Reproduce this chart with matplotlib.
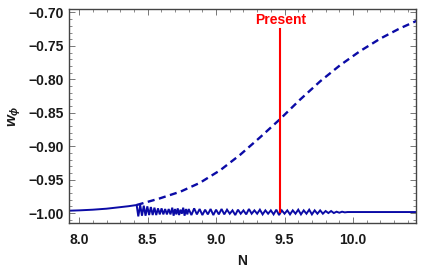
import matplotlib
matplotlib.use('Agg')
import matplotlib.pyplot as plt
from matplotlib.ticker import MultipleLocator, FuncFormatter

plt.rcParams['font.family'] = ['Liberation Sans', 'DejaVu Sans']
plt.rcParams['font.weight'] = 'bold'
plt.rcParams['mathtext.fontset'] = 'custom'
plt.rcParams['mathtext.it'] = 'Liberation Sans:italic:bold'
plt.rcParams['mathtext.rm'] = 'Liberation Sans:bold'

# --- data ---
# smooth part of the solid curve before the oscillations
smooth_N = [7.926, 8.0, 8.1, 8.2, 8.3, 8.36, 8.42]
smooth_w = [-0.9965, -0.9960, -0.9950, -0.9935, -0.9912, -0.9898, -0.9880]

# first strong oscillations
osc_N = [8.420, 8.432, 8.446, 8.459, 8.472, 8.485, 8.498, 8.511, 8.524, 8.537,
         8.550, 8.563, 8.576, 8.589, 8.602, 8.615, 8.628, 8.641, 8.654, 8.667]
osc_w = [-0.988, -1.005, -0.988, -1.004, -0.989, -1.004, -0.990, -1.003, -0.991, -1.003,
         -0.992, -1.003, -0.993, -1.002, -0.993, -1.002, -0.994, -1.002, -0.994, -1.002]

# noisy band afterwards
noise_N = [8.68, 8.69, 8.70, 8.71, 8.72, 8.73, 8.74, 8.75, 8.76, 8.77, 8.78, 8.79,
           8.80, 8.82, 8.84, 8.86,
           8.88, 8.90, 8.92, 8.94, 8.96, 8.98, 9.00, 9.02, 9.04, 9.06,
           9.08, 9.10, 9.12, 9.14, 9.16, 9.18, 9.20, 9.22, 9.24, 9.26,
           9.28, 9.30, 9.32, 9.34, 9.36, 9.38, 9.40, 9.42, 9.44, 9.46,
           9.48, 9.50, 9.52, 9.54, 9.56, 9.58, 9.60, 9.62, 9.64, 9.66,
           9.68, 9.70, 9.72, 9.74, 9.76, 9.78, 9.80, 9.82, 9.84, 9.86,
           9.88, 9.90, 9.92, 9.94, 9.96]
noise_w = [-0.992, -1.004, -0.994, -1.002, -0.993, -1.003, -0.995, -1.001, -0.992, -1.004,
           -0.994, -1.002,
           -0.994, -1.003, -0.993, -1.002,
           -0.994, -1.003, -0.995, -1.002, -0.994, -1.003, -0.995, -1.002, -0.994, -1.002,
           -0.995, -1.001, -0.996, -1.003, -0.995, -1.001, -0.996, -1.002, -0.994, -1.001,
           -0.996, -1.001, -0.995, -1.002, -0.996, -1.001, -0.996, -1.002, -0.995, -1.003,
           -0.996, -1.001, -0.996, -1.002, -0.996, -1.001, -0.995, -1.002, -0.996, -1.001,
           -0.995, -1.002, -0.996, -1.001, -0.996, -1.001, -0.997, -1.000, -0.997, -1.000,
           -0.998, -0.9995, -0.998, -0.999, -0.9985]

tail_N = [9.96, 10.2, 10.47]
tail_w = [-0.9985, -0.9985, -0.9985]

# dashed curve
dash_N = [8.42, 8.59, 8.74, 8.88, 9.03, 9.175, 9.32, 9.47, 9.61, 9.76,
          9.905, 10.05, 10.20, 10.34, 10.47]
dash_w = [-0.988, -0.978, -0.968, -0.955, -0.936, -0.913, -0.887, -0.859, -0.831, -0.803,
          -0.779, -0.758, -0.739, -0.724, -0.712]

present_N = 9.47
present_top = -0.724
present_bottom = -0.999

blue = '#0b0ba6'

fig = plt.figure(figsize=(4.21, 2.72), dpi=100)
ax = fig.add_axes([69/421, (272-223)/272, (416-69)/421, (223-9)/272])

ax.plot(smooth_N + osc_N + noise_N + tail_N,
        smooth_w + osc_w + noise_w + tail_w,
        color=blue, lw=1.4, solid_joinstyle='miter')
ax.plot(dash_N, dash_w, color=blue, lw=1.7, dashes=(3.0, 1.9))
ax.plot([present_N, present_N], [present_bottom, present_top], color='red', lw=1.5)
ax.text(present_N, present_top + 0.003, 'Present', color='red', fontsize=10,
        fontweight='bold', ha='center', va='bottom')

ax.set_xlim(7.926, 10.46)
ax.set_ylim(-1.0149, -0.6948)

ax.xaxis.set_major_locator(MultipleLocator(0.5))
ax.xaxis.set_minor_locator(MultipleLocator(0.1))
ax.yaxis.set_major_locator(MultipleLocator(0.05))
ax.yaxis.set_minor_locator(MultipleLocator(0.01))
ax.xaxis.set_major_formatter(FuncFormatter(lambda v, p: f'{v:.1f}'))
ax.yaxis.set_major_formatter(FuncFormatter(lambda v, p: f'{v:.2f}'.replace('-', '\u2212')))

for s in ax.spines.values():
    s.set_color('#444444')
    s.set_linewidth(1.0)
ax.tick_params(which='both', direction='in', top=True, right=True, color='#777777',
               labelsize=10, labelcolor='#1a1a1a')
ax.tick_params(which='major', length=4, width=0.7)
ax.tick_params(which='minor', length=2, width=0.6)
ax.tick_params(axis='x', pad=7)
ax.tick_params(axis='y', pad=4)

ax.set_xlabel('N', fontsize=10, fontweight='bold', color='#1a1a1a', labelpad=5)
ax.set_ylabel(r'$w_{\phi}$', fontsize=11, color='#1a1a1a', labelpad=4)

fig.savefig('out.png', dpi=100)
